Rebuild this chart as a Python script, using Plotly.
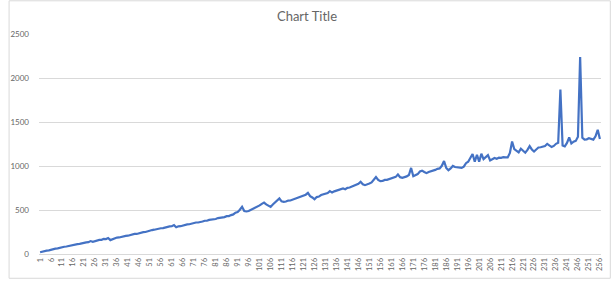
import plotly.graph_objects as go

values = [
    20, 28, 31, 39, 42, 50, 53, 61, 64, 72,
    74, 82, 85, 92, 95, 103, 105, 113, 115, 123,
    124, 132, 135, 147, 139, 148, 150, 160, 161, 172,
    170, 182, 158, 170, 176, 187, 188, 196, 197, 206,
    208, 217, 219, 228, 228, 238, 240, 249, 250, 260,
    263, 272, 276, 283, 284, 293, 294, 302, 304, 313,
    315, 328, 304, 315, 316, 326, 328, 337, 338, 347,
    348, 358, 358, 368, 369, 378, 378, 388, 389, 398,
    398, 408, 410, 418, 419, 430, 431, 442, 450, 470,
    476, 503, 537, 488, 483, 488, 500, 508, 522, 533,
    552, 570, 584, 563, 552, 535, 562, 588, 612, 631,
    598, 592, 596, 607, 608, 617, 620, 633, 638, 652,
    658, 674, 695, 658, 642, 621, 647, 653, 670, 678,
    690, 693, 715, 698, 712, 720, 732, 733, 745, 736,
    752, 756, 767, 770, 787, 798, 821, 793, 782, 788,
    802, 813, 842, 875, 843, 827, 830, 842, 843, 852,
    853, 864, 876, 903, 873, 866, 870, 882, 898, 978,
    884, 897, 908, 937, 947, 932, 919, 932, 938, 952,
    956, 968, 973, 1002, 1057, 978, 951, 973, 1001, 988,
    987, 978, 978, 993, 1032, 1049, 1092, 1137, 1049, 1128,
    1049, 1139, 1079, 1102, 1124, 1064, 1073, 1091, 1083, 1094,
    1093, 1100, 1098, 1097, 1148, 1278, 1192, 1177, 1155, 1196,
    1168, 1151, 1183, 1226, 1188, 1165, 1188, 1210, 1213, 1222,
    1228, 1252, 1228, 1215, 1228, 1252, 1263, 1869, 1233, 1223,
    1262, 1324, 1256, 1277, 1285, 1332, 2238, 1322, 1300, 1303,
    1315, 1303, 1300, 1338, 1411, 1306,
]
categories = list(range(1, len(values) + 1))
tick_labels = [str(c) for c in categories if (c - 1) % 5 == 0]
y_ticks = [0, 500, 1000, 1500, 2000, 2500]

W, H = 614, 281
ml, mr, mt, mb = 31, 10, 34, 25
pw, ph = W - ml - mr, H - mt - mb

fig = go.Figure()
fig.add_trace(go.Scatter(
    x=categories, y=values, mode="lines",
    line=dict(color="#4472C4", width=2.2),
    showlegend=False,
))

fig.update_layout(
    width=W, height=H,
    margin=dict(l=ml, r=mr, t=mt, b=mb),
    paper_bgcolor="white", plot_bgcolor="white",
    font=dict(family="Lato, Liberation Sans, sans-serif", color="#595959"),
    title=dict(text="Chart Title", x=0.5, xanchor="center",
               y=1 - 16 / H, yanchor="middle", yref="container",
               font=dict(size=13, color="#666666")),
    xaxis=dict(
        range=[0.5, len(values) + 0.5],
        tickmode="array",
        tickvals=[int(t) for t in tick_labels],
        ticktext=tick_labels,
        tickangle=-90,
        tickfont=dict(size=7.5, color="#666666"),
        showgrid=False, zeroline=False,
        showline=True, linecolor="#d9d9d9", linewidth=1,
        ticks="",
    ),
    yaxis=dict(
        range=[0, 2500],
        tickmode="array", tickvals=y_ticks,
        ticktext=[str(v) for v in y_ticks],
        tickfont=dict(size=8, color="#666666"),
        showgrid=True, gridcolor="#d9d9d9", gridwidth=1,
        zeroline=False, showline=False, ticks="",
        ticklabelstandoff=9,
    ),
    shapes=[dict(
        type="rect", xref="paper", yref="paper",
        x0=(-ml + 0.5) / pw, x1=(pw + mr - 0.5) / pw,
        y0=(-mb + 0.5) / ph, y1=(ph + mt - 0.5) / ph,
        line=dict(color="#d9d9d9", width=1), layer="below",
    )],
)

fig.write_html("out.html")
